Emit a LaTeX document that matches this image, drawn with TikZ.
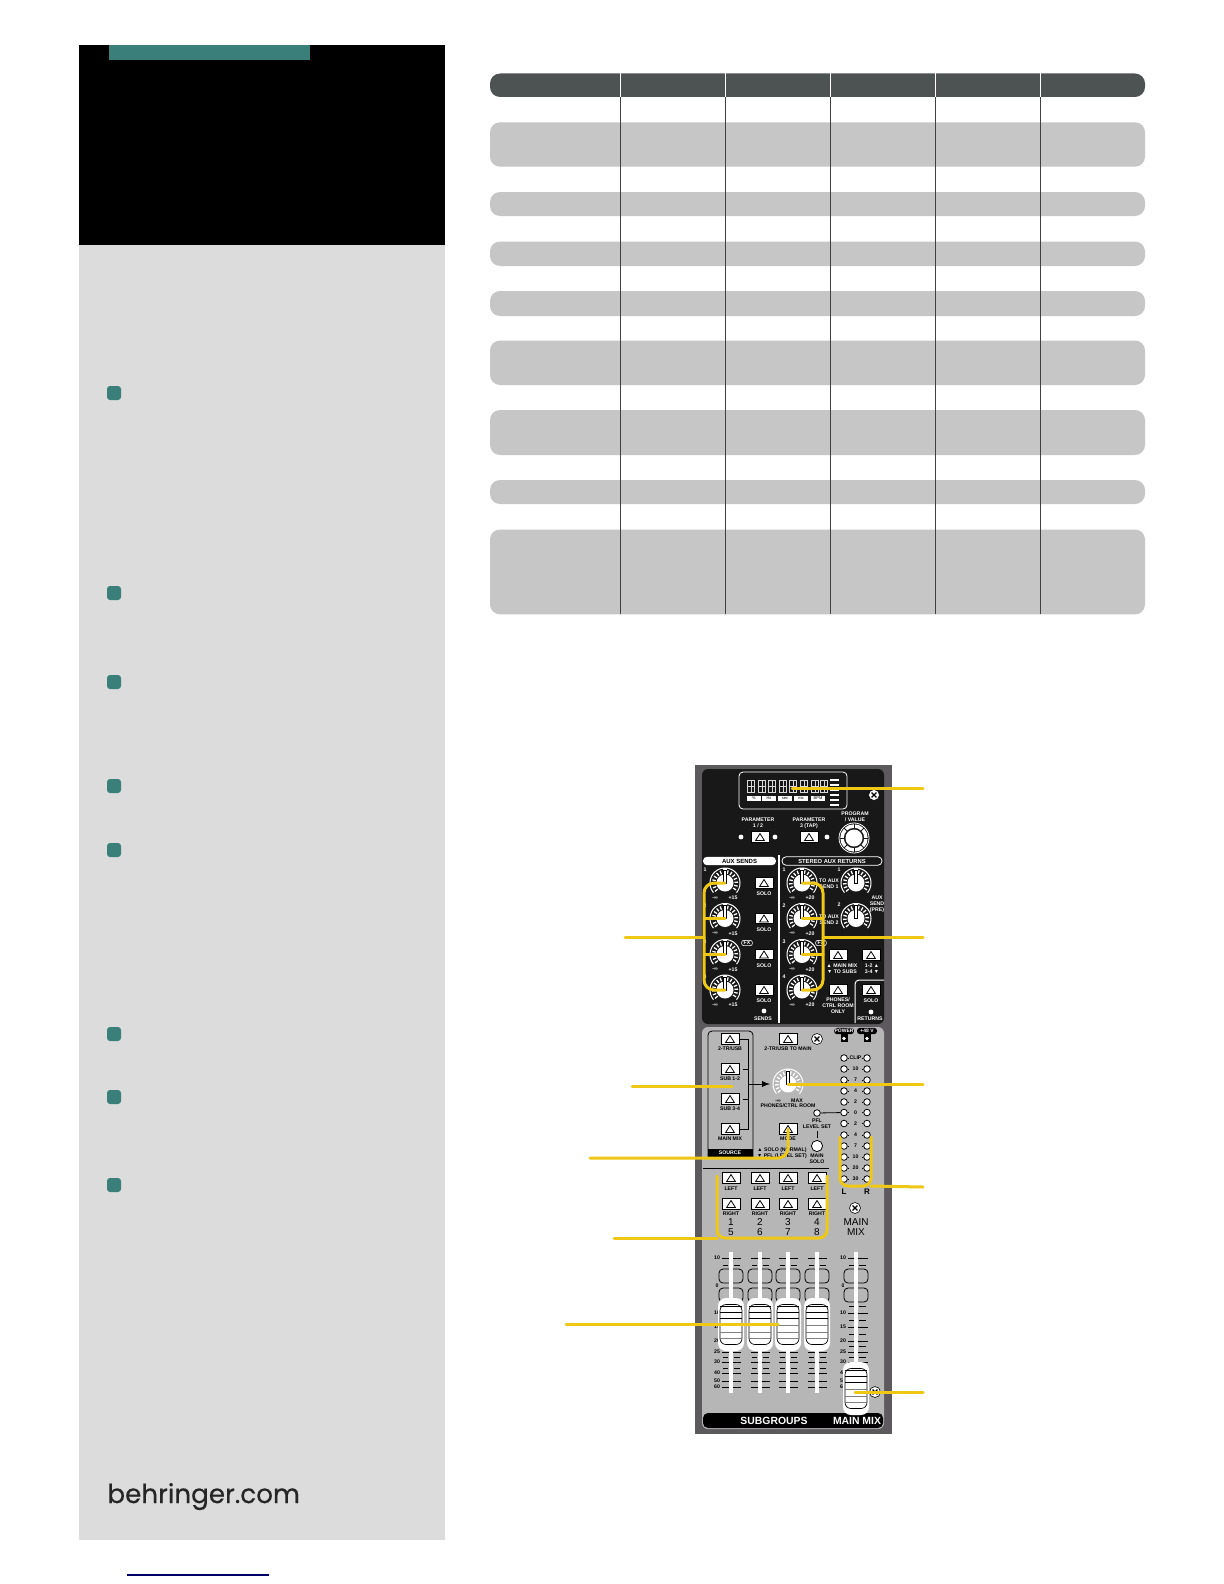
\documentclass[tikz,border=0pt]{standalone}
\usepackage{fontspec}
\setmainfont{Liberation Sans}
\newfontfamily\sitefont[FakeBold=0.5]{Poppins}
\definecolor{teal1}{HTML}{3A7F79}
\definecolor{side1}{HTML}{DCDCDC}
\definecolor{head1}{HTML}{4D5353}
\definecolor{row1}{HTML}{C6C6C6}
\definecolor{lead1}{HTML}{EFC816}
\definecolor{case1}{HTML}{5C5A5C}
\definecolor{face1}{HTML}{B6B6B6}
\definecolor{face2}{HTML}{181818}
\tikzset{
  rowbar/.style={fill=row1,rounded corners=5},
  bullet/.style={fill=teal1,rounded corners=1.5pt,minimum size=7pt,inner sep=0},
  leader/.style={draw=lead1,line width=1.5pt,line cap=round},
  whitetag/.style={text=white,font=\fontsize{2.6}{3}\selectfont\bfseries,inner sep=0,align=center},
  blacktag/.style={text=black,font=\fontsize{2.6}{3}\selectfont\bfseries,inner sep=0,align=center},
  bigtag/.style={text=black,font=\fontsize{5}{5}\selectfont,inner sep=0,align=center},
  barbtn/.style={draw=black,line width=0.4pt,fill=white,minimum width=9pt,minimum height=5.3pt,inner sep=0},
  ledspot/.style={circle,draw=black,line width=0.4pt,fill=white,minimum size=3.3pt,inner sep=0},
  screw/.style={circle,fill=white,draw=black,line width=0.3pt,minimum size=5.5pt,inner sep=0},
  scaleline/.style={draw=black,line width=0.35pt},
}
\newcommand{\tactbtn}[3]{
  \node[barbtn] (#1) at (#2,#3) {};
  \draw[black,line width=0.4pt] (#2,#3-3.5) -- (#2+4.4,#3+3.5) -- (#2-4.4,#3+3.5) -- cycle;
}
\newcommand{\dialknob}[3]{
  \coordinate (#1) at (#2,#3);
  \begin{scope}[shift={(#2,#3)}]
    \foreach \a in {-220,-202,...,40}
      \draw[white,line width=0.65pt] (\a:9.5) -- (\a:13);
    \draw[white,line width=0.5pt,domain=-220:40,samples=40] plot (\x:15);
    \fill[white] (0,0) circle (8.5);
    \fill[white] (-2.4,-15) rectangle (2.4,0);
    \draw[black,line width=0.4pt] (-1.4,-13) rectangle (1.4,0);
  \end{scope}
}
\newcommand{\screwmark}[3]{
  \node[screw] (#1) at (#2,#3) {};
  \draw[black,line width=0.6pt] (#2-2.4,#3-2.4) -- (#2+2.4,#3+2.4) (#2-2.4,#3+2.4) -- (#2+2.4,#3-2.4);
}
\newcommand{\slidercap}[3]{
  \node[fill=white,rounded corners=4pt,minimum width=13pt,minimum height=26.5pt,inner sep=0] (#1) at (#2,#3) {};
  \draw[black,line width=0.35pt,rounded corners=3pt] (#2-11,#3-20) rectangle (#2+11,#3+20);
  \foreach \d/\c in {-18/black,-12/black,-6/black,1/gray,8/gray,14/gray}
    \draw[\c,line width=0.35pt] (#2-11,#3+\d) -- (#2+11,#3+\d);
}
\begin{document}
\begin{tikzpicture}[x=0.5pt,y=-0.5pt]
\useasboundingbox (0,0) rectangle (1224,1584);
\fill[white] (0,0) rectangle (1224,1584);

\fill[side1] (79,244) rectangle (445,1540);
\fill[black] (79,45) rectangle (445,245);
\fill[teal1] (109,45) rectangle (310,60.5);
\foreach \n/\y in {a/393,b/593,c/682,d/786,e/850,f/1034,g/1097,h/1185}
  \node[bullet] (bullet\n) at (114,\y) {};
\node[anchor=base west,inner sep=0,text=black!85,font=\sitefont\fontsize{13.1}{13.1}\selectfont] (sitename) at (107,1503) {behringer.com};
\draw[blue!40!black,line width=0.6pt] (127,1575) -- (269,1575);

\fill[head1,rounded corners=5] (490,73.5) rectangle (1145,97);
\foreach \t/\b in {122.3/166.7,192/216,241.5/266,291/316,340.5/385,410/455,480/504,529.5/614.4}
  \fill[rowbar] (490,\t) rectangle (1145,\b);
\foreach \x in {620.5,725.5,830.6,935.7,1040.8} {
  \draw[white,line width=0.5pt] (\x,73.5) -- (\x,97);
  \draw[black!75,line width=0.5pt] (\x,97) -- (\x,614.4);
}

\fill[case1] (695,765) rectangle (892,1434);
\fill[face2,rounded corners=3pt] (702,769) rectangle (884,1024);
\fill[face1,rounded corners=3pt] (702,1027) rectangle (884,1429);

\draw[white,line width=0.4pt,rounded corners=2pt] (739,772) rectangle (847,809);
\foreach \x in {751,762,772,783,793,804,815,824} {
  \draw[white!85!black,line width=0.3pt] (\x-3.5,780) rectangle (\x+3.5,792);
  \draw[white!85!black,line width=0.3pt] (\x,780) -- (\x,792) (\x-3.5,786) -- (\x+3.5,786);
}
\foreach \n/\x/\t in {pct/754/\%,hz/769/Hz,sec/785/sec,ms/801/ms,bpm/818/BPM} {
  \node[fill=white,minimum width=6.8pt,minimum height=2.4pt,inner sep=0] (unit\n) at (\x,798.5) {};
  \node[blacktag,font=\fontsize{2}{2}\selectfont] (unittext\n) at (\x,798.5) {\t};
}
\foreach \y in {780,785,790,795,800,805}
  \draw[white,line width=0.6pt] (830,\y) -- (839,\y);
\screwmark{screwtop}{874}{795}

\node[whitetag] (paramone) at (758,823) {PARAMETER\\1 / 2};
\node[whitetag] (paramtwo) at (809,823) {PARAMETER\\3 (TAP)};
\node[whitetag] (progval) at (855,817) {PROGRAM\\/ VALUE};
\tactbtn{btnparamone}{760}{837}
\tactbtn{btnparamtwo}{809}{837}
\foreach \n/\x in {a/741,b/775,c/827}
  \node[circle,fill=white,minimum size=2.4pt,inner sep=0] (parled\n) at (\x,837) {};
\begin{scope}[shift={(854,838)}]
  \draw[white,line width=1.7pt] (0,0) circle (12);
  \foreach \a in {0,45,...,315}
    \draw[face2,line width=0.4pt] (\a:10) -- (\a:14);
  \draw[white,line width=0.4pt] (0,0) circle (15);
  \fill[white] (0,0) circle (8.5);
\end{scope}

\node[fill=white,rounded corners=2pt,minimum width=36.5pt,minimum height=4.2pt,inner sep=0] (auxbar) at (739.5,861) {};
\node[blacktag,font=\fontsize{3}{3}\selectfont\bfseries] (auxtext) at (739.5,861) {AUX SENDS};
\node[draw=white,line width=0.4pt,rounded corners=2pt,minimum width=50pt,minimum height=4.2pt,inner sep=0] (stereobar) at (832,861) {};
\node[whitetag,font=\fontsize{2.9}{3}\selectfont\bfseries] (stereotext) at (832,861) {STEREO AUX RETURNS};
\draw[white,line width=0.6pt] (779,855) -- (779,1023);
\draw[white,line width=0.5pt,rounded corners=2pt] (855,1023) -- (855,980) -- (884,980);

\foreach \n/\y in {1/883,2/918.5,3/954.5,4/990} {
  \dialknob{sends\n}{725}{\y}
  \dialknob{returns\n}{802}{\y}
  \node[whitetag] (sendnum\n) at (705,\y-13) {\n};
  \node[whitetag] (retnum\n) at (784,\y-13) {\n};
  \node[whitetag] (sendlo\n) at (715,\y+15) {-∞};
  \node[whitetag] (sendhi\n) at (733,\y+15) {+15};
  \node[whitetag] (retlo\n) at (792,\y+15) {-∞};
  \node[whitetag] (rethi\n) at (810,\y+15) {+20};
  \tactbtn{btnsolo\n}{764}{\y}
  \node[whitetag] (sololabel\n) at (764,\y+11) {SOLO};
}
\dialknob{auxret1}{856}{883}
\dialknob{auxret2}{856}{918.5}
\node[whitetag] (auxretnum1) at (839,870) {1};
\node[whitetag] (auxretnum2) at (839,905) {2};
\node[whitetag] (auxpre) at (877,904) {AUX\\SEND\\(PRE)};
\node[whitetag] (toauxa) at (829,884) {TO AUX\\SEND 1};
\node[whitetag] (toauxb) at (829,920) {TO AUX\\SEND 2};
\node[whitetag,draw=white,line width=0.3pt,rounded corners=1pt,inner xsep=1pt,inner ysep=0.4pt] (fxa) at (747,943) {FX};
\node[whitetag,draw=white,line width=0.3pt,rounded corners=1pt,inner xsep=1pt,inner ysep=0.4pt] (fxb) at (821,943) {FX};

\tactbtn{btnmainsubs}{838}{955}
\tactbtn{btnonetwo}{871}{955}
\tactbtn{btnphones}{838}{990}
\tactbtn{btnretsolo}{871}{990}
\node[whitetag] (mainsubs) at (842,969) {▲ MAIN MIX\\▼ TO SUBS};
\node[whitetag] (onetwo) at (872,969) {1-2 ▲\\3-4 ▼};
\node[whitetag] (phonesonly) at (838,1006) {PHONES/\\CTRL ROOM\\ONLY};
\node[whitetag] (retsolo) at (871,1001) {SOLO};
\node[circle,fill=white,minimum size=2.4pt,inner sep=0] (retled) at (871,1012) {};
\node[circle,fill=white,minimum size=2.4pt,inner sep=0] (sendled) at (764,1011) {};
\node[whitetag] (retlabel) at (870,1019) {RETURNS};
\node[whitetag] (sendlabel) at (763,1019) {SENDS};

\draw[black,line width=0.4pt,rounded corners=2pt] (708,1157) -- (708,1031) -- (753,1031) -- (753,1157);
\fill[black] (708,1149) rectangle (753,1157);
\node[whitetag] (sourcetag) at (730,1153) {SOURCE};
\foreach \n/\y/\t in {a/1039/{2-TR/USB},b/1069/SUB 1-2,c/1099/SUB 3-4,d/1129/MAIN MIX} {
  \tactbtn{btnsrc\n}{730}{\y}
  \node[blacktag] (srctag\n) at (730,\y+10) {\t};
}
\tactbtn{btntomain}{788}{1039}
\node[blacktag] (tomain) at (788,1049) {2-TR/USB TO MAIN};
\screwmark{screwmid}{817}{1039}
\draw[black,line width=0.4pt] (740,1039) -| (748,1129) -- (740,1129);
\draw[black,line width=0.4pt] (743,1069) -- (748,1069) (743,1099) -- (748,1099);
\draw[black,line width=0.4pt,-latex] (748,1084) -- (770,1084);
\dialknob{phonesknob}{788}{1084}
\node[blacktag] (phlo) at (778,1101) {-∞};
\node[blacktag] (phhi) at (797,1101) {MAX};
\node[blacktag] (phonesctrl) at (788,1106) {PHONES/CTRL ROOM};

\foreach \n/\x/\t in {powerpill/844/POWER,phantompill/867/+48 V} {
  \node[fill=black,rounded corners=1.5pt,minimum width=10pt,minimum height=3.2pt,inner sep=0] (\n) at (\x,1031) {};
  \node[whitetag,font=\fontsize{2.5}{2.5}\selectfont\bfseries] (\n text) at (\x,1031) {\t};
  \fill[black] (\x-3.5,1033) rectangle (\x+3.5,1042);
  \fill[white] (\x,1038.5) circle (1.8);
}
\foreach \n/\y/\t in {a/1058/CLIP,b/1069/10,c/1080/7,d/1091/4,e/1102/2,f/1112.5/0,g/1123.5/2,h/1135/4,i/1146/7,j/1157/10,k/1168/20,l/1179/30} {
  \node[ledspot] (ledl\n) at (844,\y) {};
  \node[ledspot] (ledr\n) at (867,\y) {};
  \node[blacktag] (ledtag\n) at (855.5,\y) {\t};
  \draw[black,line width=0.3pt] (ledl\n) -- (849,\y) (862,\y) -- (ledr\n);
}
\node[ledspot] (pflled) at (817,1113) {};
\draw[black,line width=0.4pt] (pflled) -- (ledlf);
\node[blacktag] (pfltag) at (817,1124) {PFL\\LEVEL SET};
\draw[black,line width=0.4pt] (817,1131) -- (817,1138);
\node[ledspot,minimum size=5.6pt] (mainsolo) at (817,1146) {};
\node[blacktag] (mainsolotag) at (817,1159) {MAIN\\SOLO};
\tactbtn{btnmode}{788}{1129}
\node[blacktag] (modetag) at (788,1139) {MODE};
\node[blacktag] (modehelp) at (782,1153) {▲ SOLO (NORMAL)\\▼ PFL (LEVEL SET)};
\draw[black,line width=0.4pt] (703,1168) -- (829,1168);

\foreach \n/\x/\u/\v in {a/731/1/5,b/760/2/6,c/788/3/7,d/817/4/8} {
  \tactbtn{btnleft\n}{\x}{1178}
  \tactbtn{btnright\n}{\x}{1204}
  \node[blacktag] (lefttag\n) at (\x,1189) {LEFT};
  \node[blacktag] (righttag\n) at (\x,1214) {RIGHT};
  \node[bigtag] (numa\n) at (\x,1222) {\u};
  \node[bigtag] (numb\n) at (\x,1232) {\v};
}
\node[text=black,font=\fontsize{4}{4}\selectfont\bfseries,inner sep=0] (letterl) at (844,1192) {L};
\node[text=black,font=\fontsize{4}{4}\selectfont\bfseries,inner sep=0] (letterr) at (867,1192) {R};
\screwmark{screwmain}{855}{1208}
\node[bigtag] (mainmixa) at (856,1222) {MAIN};
\node[bigtag] (mainmixb) at (856,1232) {MIX};

\foreach \n/\y/\t in {a/1258/10,b/1286/0,c/1313/10,d/1327/15,e/1341/20,f/1352/25,g/1362/30,h/1373/40,i/1381/50,j/1387/60} {
  \node[blacktag] (subtag\n) at (717,\y) {\t};
  \node[blacktag] (maintag\n) at (843,\y) {\t};
}
\foreach \y in {1258,1286,1313,1327,1341,1352,1362,1373,1381,1387} {
  \foreach \x in {731,760,788,817} {
    \draw[scaleline] (\x-9,\y) -- (\x+10,\y);
  }
  \draw[scaleline] (848,\y) -- (868,\y);
}
\foreach \y in {1265,1306,1320,1334,1346,1357,1368} {
  \foreach \x in {731,760,788,817} {
    \draw[scaleline] (\x-8,\y) -- (\x-3,\y) (\x+3,\y) -- (\x+9,\y);
  }
  \draw[scaleline] (849,\y) -- (854,\y) (859,\y) -- (866,\y);
}
\foreach \x in {731,760,788,817,856} {
  \fill[face1] (\x-12,1268) rectangle (\x+12,1303);
  \draw[black,line width=0.4pt,rounded corners=2pt] (\x-12,1269) rectangle (\x+12,1283);
  \draw[black,line width=0.4pt,rounded corners=2pt] (\x-12,1288) rectangle (\x+12,1302);
  \fill[white] (\x-1.6,1252) rectangle (\x+1.6,1393);
}
\slidercap{capa}{731}{1324.5}
\slidercap{capb}{760}{1324.5}
\slidercap{capc}{788}{1324.5}
\slidercap{capd}{817}{1324.5}
\fill[black,rounded corners=2.5pt] (703,1413) rectangle (883,1428);
\slidercap{capmain}{856}{1388.5}
\node[text=white,font=\fontsize{5.2}{5.2}\selectfont\bfseries,inner sep=0] (subgroups) at (774,1421) {SUBGROUPS};
\node[text=white,font=\fontsize{5.2}{5.2}\selectfont\bfseries,inner sep=0] (mainmixfoot) at (857,1421) {MAIN MIX};
\screwmark{screwfoot}{875}{1392}

\coordinate (tipdisplay) at (923,788);
\coordinate (dispend) at (792,788);
\draw[leader] (tipdisplay) -- (dispend);
\coordinate (tipaux) at (625,937);
\coordinate (brkaux) at (704,937);
\draw[leader] (tipaux) -- (brkaux);
\draw[leader,rounded corners=5pt] (sends1) -| (brkaux) |- (sends4);
\draw[leader] (sends2 -| brkaux) -- (sends2);
\draw[leader] (sends3 -| brkaux) -- (sends3);
\coordinate (tipreturn) at (923,937);
\coordinate (brkreturn) at (823,937);
\draw[leader] (tipreturn) -- (brkreturn);
\draw[leader,rounded corners=5pt] (returns1) -| (brkreturn) |- (returns4);
\draw[leader] (returns2 -| brkreturn) -- (returns2);
\draw[leader] (returns3 -| brkreturn) -- (returns3);
\coordinate (tipsource) at (632,1086);
\coordinate (endsource) at (732,1086);
\draw[leader] (tipsource) -- (endsource);
\coordinate (tipphones) at (923,1084);
\draw[leader] (tipphones) -- (phonesknob);
\coordinate (tipmode) at (590,1158);
\draw[leader,rounded corners=5pt] (tipmode) -| (btnmode.center);
\coordinate (tipled) at (923,1187);
\coordinate (ledlow) at (840,1137);
\coordinate (ledhigh) at (871,1137);
\coordinate (ledfoot) at (871,1186);
\draw[leader,rounded corners=4pt] (ledlow) |- (ledfoot) -- (ledhigh);
\draw[leader] (tipled) -- (ledfoot);
\coordinate (tipbtn) at (614,1238);
\coordinate (btnl) at (717,1176);
\coordinate (btnr) at (827,1176);
\coordinate (btnfoot) at (717,1238);
\draw[leader] (tipbtn) -- (btnfoot);
\draw[leader,rounded corners=4pt] (btnl) -- (btnfoot) -| (btnr);
\coordinate (tipfader) at (566,1324);
\coordinate (endfader) at (778,1324);
\draw[leader] (tipfader) -- (endfader);
\coordinate (tipmain) at (923,1392);
\coordinate (endmain) at (855,1392);
\draw[leader] (tipmain) -- (endmain);
\end{tikzpicture}
\end{document}
